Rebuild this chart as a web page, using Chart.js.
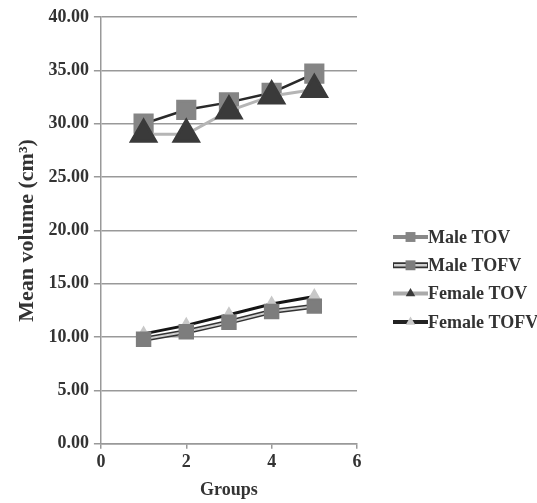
<!DOCTYPE html>
<html>
<head>
<meta charset="utf-8">
<script src="https://cdn.jsdelivr.net/npm/chart.js@4.4.1/dist/chart.umd.min.js"></script>
<style>
  html, body { margin: 0; padding: 0; background: #fff; }
  #wrap { width: 537px; height: 503px; }
</style>
</head>
<body>
<div id="wrap"><canvas id="chart"></canvas></div>
<script>
// values
const groups = [1, 2, 3, 4, 5];
const maleTOV = [30.0, 31.3, 32.0, 32.9, 34.7];
const maleTOFV = [9.8, 10.5, 11.4, 12.4, 12.9];
const femaleTOV = [29.0, 29.0, 31.2, 32.6, 33.2];
const femaleTOFV = [10.3, 11.1, 12.1, 13.1, 13.8];
const yTicks = [0, 5, 10, 15, 20, 25, 30, 35, 40];
const xTicks = [0, 2, 4, 6];

const serif = "'Liberation Serif', 'Times New Roman', serif";
const pts = arr => arr.map((v, i) => ({ x: groups[i], y: v }));

// dark edge under the "outlined" series line
const outlinePlugin = {
  id: 'outline',
  beforeDatasetDraw(chart, args) {
    const ds = chart.data.datasets[args.index];
    if (!ds.legendOutline) return;
    const ctx = chart.ctx;
    const els = args.meta.data;
    ctx.save();
    ctx.strokeStyle = '#333';
    ctx.lineWidth = 5;
    ctx.lineJoin = 'round';
    ctx.beginPath();
    els.forEach((p, i) => i ? ctx.lineTo(p.x, p.y) : ctx.moveTo(p.x, p.y));
    ctx.stroke();
    ctx.restore();
  }
};

// legend: line + marker, drawn by hand on the right
const legendPlugin = {
  id: 'sideLegend',
  afterDraw(chart) {
    const ctx = chart.ctx;
    const x0 = 393, x1 = 428;
    chart.data.datasets.forEach((ds, i) => {
      const y = 237 + i * 28.3;
      ctx.save();
      ctx.lineCap = 'butt';
      if (ds.legendOutline) {
        ctx.strokeStyle = '#333';
        ctx.lineWidth = 6;
        ctx.beginPath(); ctx.moveTo(x0, y); ctx.lineTo(x1, y); ctx.stroke();
        ctx.strokeStyle = '#d0d0d0';
        ctx.lineWidth = 2.5;
        ctx.beginPath(); ctx.moveTo(x0 + 1, y); ctx.lineTo(x1 - 1, y); ctx.stroke();
      } else {
        ctx.strokeStyle = ds.legendLine;
        ctx.lineWidth = 4;
        ctx.beginPath(); ctx.moveTo(x0, y); ctx.lineTo(x1, y); ctx.stroke();
      }
      ctx.fillStyle = ds.pointBackgroundColor;
      ctx.strokeStyle = ds.pointBackgroundColor;
      Chart.helpers.drawPoint(ctx, {
        pointStyle: ds.pointStyle,
        radius: ds.pointStyle === 'rect' ? 7 : 5.5,
        borderWidth: 0
      }, (x0 + x1) / 2, y);
      ctx.font = 'bold 18px ' + serif;
      ctx.fillStyle = '#333';
      ctx.textBaseline = 'middle';
      ctx.fillText(ds.label, x1, y + 1);
      ctx.restore();
    });
  }
};

new Chart(document.getElementById('chart'), {
  type: 'line',
  data: {
    datasets: [
      {
        label: 'Male TOV',
        data: pts(maleTOV),
        borderColor: '#2a2a2a',
        borderWidth: 2.5,
        pointStyle: 'rect',
        pointRadius: 12.5,
        pointBackgroundColor: '#858585',
        pointBorderColor: '#858585',
        legendLine: '#888',
        order: 2
      },
      {
        label: 'Male TOFV',
        data: pts(maleTOFV),
        borderColor: '#cfcfcf',
        borderWidth: 2,
        pointStyle: 'rect',
        pointRadius: 9.5,
        pointBackgroundColor: '#7d7d7d',
        pointBorderColor: '#7d7d7d',
        legendOutline: true,
        order: 3
      },
      {
        label: 'Female TOV',
        data: pts(femaleTOV),
        borderColor: '#b5b5b5',
        borderWidth: 3,
        pointStyle: 'triangle',
        pointRadius: 14,
        pointBackgroundColor: '#3a3a3a',
        pointBorderColor: '#3a3a3a',
        legendLine: '#aaa',
        order: 1
      },
      {
        label: 'Female TOFV',
        data: pts(femaleTOFV),
        borderColor: '#151515',
        borderWidth: 3,
        pointStyle: 'triangle',
        pointRadius: 5.5,
        pointBackgroundColor: '#c8c8c8',
        pointBorderColor: '#c8c8c8',
        legendLine: '#222',
        order: 4
      }
    ]
  },
  options: {
    responsive: true,
    maintainAspectRatio: false,
    animation: false,
    layout: { padding: { top: 6, right: 180, left: 10, bottom: 2 } },
    plugins: {
      legend: { display: false },
      tooltip: { enabled: false }
    },
    scales: {
      x: {
        type: 'linear',
        min: 0,
        max: 6,
        afterBuildTicks: axis => { axis.ticks = xTicks.map(v => ({ value: v })); },
        border: { color: '#999', width: 1.5 },
        grid: { display: true, drawOnChartArea: false, color: '#999', tickLength: 5, lineWidth: 1.5 },
        ticks: { color: '#333', font: { family: serif, size: 18, weight: 'bold' }, padding: 3 },
        title: { display: true, text: 'Groups', color: '#333', font: { family: serif, size: 18, weight: 'bold' }, padding: { top: 3, bottom: 0 } }
      },
      y: {
        min: 0,
        max: 40,
        afterBuildTicks: axis => { axis.ticks = yTicks.map(v => ({ value: v })); },
        border: { color: '#999', width: 1.5 },
        grid: { color: '#999', lineWidth: 1.5, tickLength: 7 },
        ticks: { color: '#333', font: { family: serif, size: 18, weight: 'bold' }, padding: 5, callback: v => v.toFixed(2) },
        title: { display: true, text: 'Mean volume (cm³)', color: '#333', font: { family: serif, size: 22, weight: 'bold' }, padding: { bottom: 3 } }
      }
    }
  },
  plugins: [outlinePlugin, legendPlugin]
});
</script>
</body>
</html>
